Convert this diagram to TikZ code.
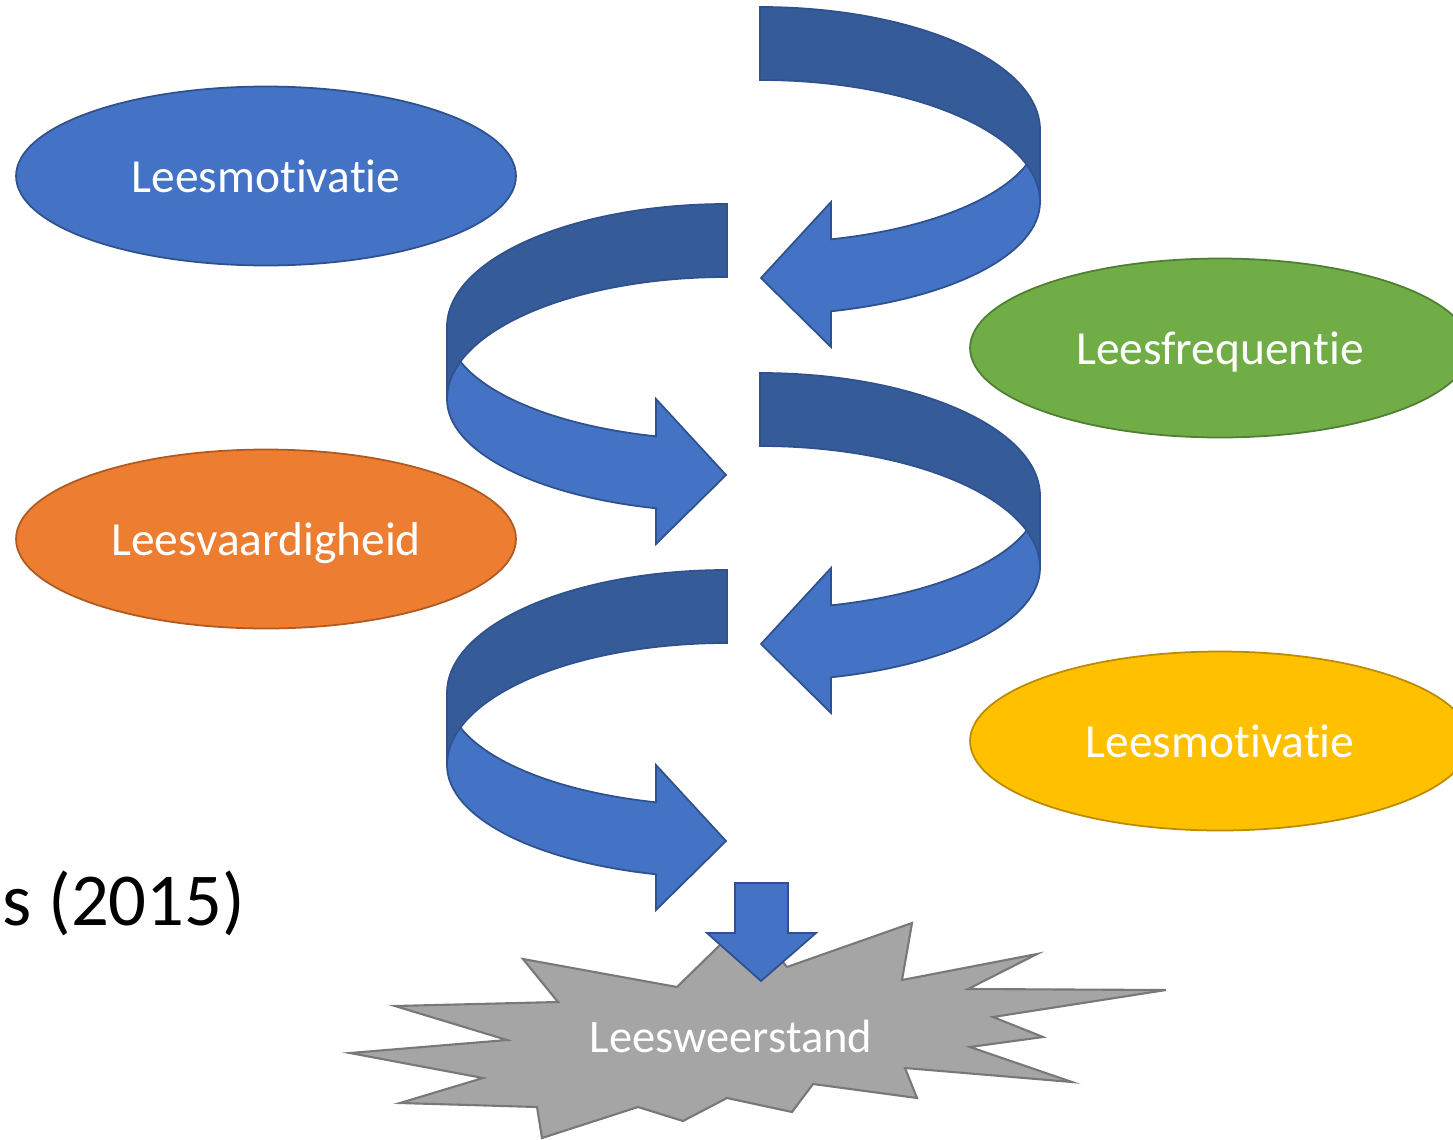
\documentclass[tikz,border=0pt]{standalone}
\usepackage{fontspec}
\setmainfont[Ligatures=NoCommon]{Carlito}
\usepackage{xcolor}
\usetikzlibrary{
    shapes.geometric,
    positioning
}

\definecolor{accblue}{HTML}{4472C4}
\definecolor{accbluedark}{HTML}{2F528F}
\definecolor{ribbondark}{HTML}{355C99}
\definecolor{accgreen}{HTML}{70AD47}
\definecolor{accgreendark}{HTML}{507E32}
\definecolor{accorange}{HTML}{ED7D31}
\definecolor{accorangedark}{HTML}{AE5A21}
\definecolor{accgold}{HTML}{FFC000}
\definecolor{accgolddark}{HTML}{BC8C00}
\definecolor{stargrey}{HTML}{A5A5A5}
\definecolor{stargreydark}{HTML}{787878}

% one turn of the ribbon arrow (top right one)
\newcommand{\ribbonturn}{%
    \filldraw[fill=accblue, draw=accbluedark, line width=1pt] (1040,130)
        arc[start angle=0, end angle=75.31, x radius=280, y radius=113]
        -- (831,202) -- (761,278) -- (831,347) -- (831,311.3)
        arc[start angle=75.31, end angle=0, x radius=280, y radius=113]
        -- cycle;
    \filldraw[fill=ribbondark, draw=accbluedark, line width=1pt] (760,7)
        arc[start angle=-90, end angle=0, x radius=280, y radius=123]
        -- (1040,202)
        arc[start angle=0, end angle=-90, x radius=280, y radius=122]
        -- cycle;
}

\begin{document}
\begin{tikzpicture}[x=0.02cm, y=-0.02cm,
    bubble/.style={ellipse, draw, line width=1pt, minimum width=10cm,
        minimum height=3.58cm, inner sep=0pt, text=white,
        text height=19pt, text depth=0pt,
        font=\fontsize{27}{32}\selectfont}]
                        \useasboundingbox (0,0) rectangle (1453,1139);

                        \node[bubble, fill=accblue, draw=accbluedark] (motivatie) at (266,176) {Leesmotivatie};
                        \node[bubble, fill=accgreen, draw=accgreendark] (frequentie) at (1220,348) {Leesfrequentie};
                        \node[bubble, fill=accorange, draw=accorangedark] (vaardigheid) at (266,539) {Leesvaardigheid};
                        \node[bubble, fill=accgold, draw=accgolddark] (motivatie2) at (1220,741) {Leesmotivatie};

                        \begin{scope}
                            \ribbonturn
                        \end{scope}
                        \begin{scope}[shift={(1487,197)}, xscale=-1]
                            \ribbonturn
                        \end{scope}
                        \begin{scope}[shift={(0,366)}]
                            \ribbonturn
                        \end{scope}
                        \begin{scope}[shift={(1487,563)}, xscale=-1]
                            \ribbonturn
                        \end{scope}

                        \node[anchor=base west, inner sep=0pt, font=\fontsize{42.5}{50}\selectfont] (bron) at (2,925) {s (2015)};

                        % explosion
                        \filldraw[fill=stargrey, draw=stargreydark, line width=1.2pt]
                        (523,959) -- (677,987) -- (720,945) -- (752,925) -- (787,967)
                        -- (912,923) -- (902,980) -- (1037,954) -- (968,989) -- (1166,990)
                        -- (993,1017) -- (1043,1037) -- (970,1047) -- (1072,1082) -- (905,1068)
                        -- (917,1098) -- (813,1084) -- (792,1112) -- (727,1098) -- (683,1121)
                        -- (638,1107) -- (542,1138) -- (537,1107) -- (400,1103) -- (483,1078)
                        -- (350,1053) -- (507,1040) -- (395,1006) -- (558,1002) -- cycle;
                        \node[anchor=base, inner sep=0pt, text=white, font=\fontsize{26.5}{32}\selectfont] (weerstand) at (731,1052) {Leesweerstand};

                        \filldraw[fill=accblue, draw=accbluedark, line width=1pt]
                        (735,883) -- (788,883) -- (788,933) -- (816,933) -- (761,981)
                        -- (707,933) -- (735,933) -- cycle;
                    \end{tikzpicture}
\end{document}
